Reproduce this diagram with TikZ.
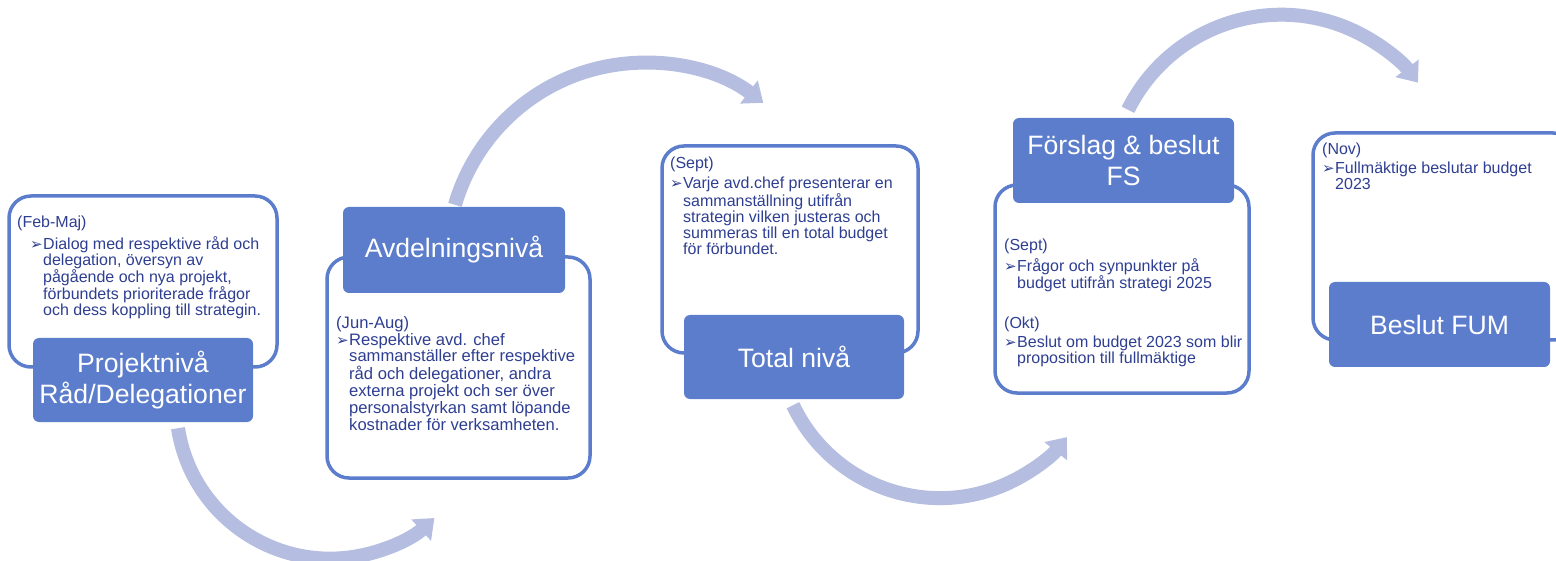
\documentclass[tikz,border=0pt]{standalone}
\usepackage{fontspec}
\setmainfont{Liberation Sans}
\newfontfamily\bulfont{DejaVu Sans}
\usetikzlibrary{arrows.meta}
\definecolor{stageblue}{RGB}{92,125,204}
\definecolor{flowblue}{RGB}{181,190,225}
\definecolor{notenavy}{RGB}{46,62,145}
\newcommand{\bul}{\makebox[13pt][l]{\bulfont\fontsize{15}{15}\selectfont ➢}}
\newcommand{\bulpad}{\hspace*{13pt}}
\begin{document}
\begin{tikzpicture}[x=1pt,y=1pt,
    frame/.style={draw=stageblue,line width=3.5pt,rounded corners=22pt,inner sep=0pt},
    stage/.style={fill=stageblue,rounded corners=6pt,text=white,align=center,inner sep=0pt,
        minimum width=221pt,minimum height=85pt,font=\fontsize{26.6}{31}\selectfont},
    note/.style={text=notenavy,align=left,anchor=north west,inner sep=0pt,font=\fontsize{16}{16}\selectfont},
    flow/.style={draw=flowblue,line width=14pt,-{Triangle[width=28pt,length=18pt]}}]
    \useasboundingbox (0,0) rectangle (1556,-561);
    \clip (0,0) rectangle (1556,-561);
    \node[frame,minimum width=268pt,minimum height=171pt] (fr1) at (143,-281.5) {};
    \node[frame,minimum width=263pt,minimum height=221pt] (fr2) at (458.5,-367.5) {};
    \node[frame,minimum width=256pt,minimum height=207pt] (fr3) at (790,-249.5) {};
    \node[frame,minimum width=254pt,minimum height=208pt] (fr4) at (1122,-289) {};
    \node[frame,minimum width=262pt,minimum height=207pt] (fr5) at (1444,-236.5) {};
    \node[stage,minimum width=220pt,minimum height=84pt] (st1) at (143,-380) {Projektnivå\\Råd/Delegationer};
    \node[stage,minimum width=222pt,minimum height=86pt] (st2) at (454,-250) {Avdelningsnivå};
    \node[stage,minimum width=220pt,minimum height=84pt] (st3) at (794,-357) {Total nivå};
    \node[stage] (st4) at (1123.5,-160.5) {Förslag \& beslut\\FS};
    \node[stage] (st5) at (1439.5,-324.5) {Beslut FUM};
    \node[note] (nt1) at (17,-216) {(Feb-Maj)\\[4pt]
        \bulpad\bul Dialog med respektive råd och\\
        \bulpad\bulpad delegation, översyn av\\
        \bulpad\bulpad pågående och nya projekt,\\
        \bulpad\bulpad förbundets prioriterade frågor\\
        \bulpad\bulpad och dess koppling till strategin.};
    \node[note,font=\fontsize{16.6}{16.8}\selectfont] (nt2) at (336,-316) {(Jun-Aug)\\
        \bul Respektive avd. chef\\
        \bulpad sammanställer efter respektive\\
        \bulpad råd och delegationer, andra\\
        \bulpad externa projekt och ser över\\
        \bulpad personalstyrkan samt löpande\\
        \bulpad kostnader för verksamheten.};
    \node[note] (nt3) at (670,-157) {(Sept)\\[4pt]
        \bul Varje avd.chef presenterar en\\
        \bulpad sammanställning utifrån\\
        \bulpad strategin vilken justeras och\\
        \bulpad summeras till en total budget\\
        \bulpad för förbundet.};
    \node[note] (nt4) at (1004,-239) {(Sept)\\[3pt]
        \bul Frågor och synpunkter på\\
        \bulpad budget utifrån strategi 2025\\[24pt]
        (Okt)\\[3pt]
        \bul Beslut om budget 2023 som blir\\
        \bulpad proposition till fullmäktige};
    \node[note] (nt5) at (1322,-143) {(Nov)\\[3pt]
        \bul Fullmäktige beslutar budget\\
        \bulpad 2023};
    \coordinate (go1) at ([shift={(35,-6)}]st1.south);
    \coordinate (go2) at ([shift={(1,2)}]st2.north);
    \coordinate (go3) at ([shift={(-1,-6)}]st3.south);
    \coordinate (go4) at ([shift={(4.5,8)}]st4.north);
    \foreach \i/\sa/\ea/\rad in {1/188.8/312.6/154,2/163.8/52.8/197,3/205.4/321.3/162.7,4/153.6/37.1/171.2}
        \draw[flow] (go\i) arc[start angle=\sa,end angle=\ea,radius=\rad];
\end{tikzpicture}
\end{document}
